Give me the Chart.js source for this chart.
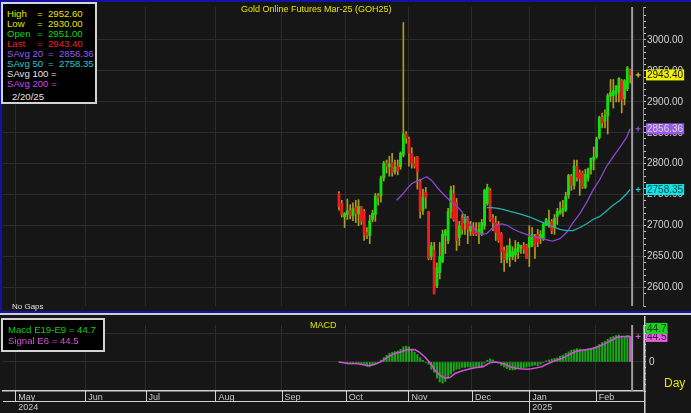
<!DOCTYPE html>
<html>
<head>
<meta charset="utf-8">
<script src="https://cdn.jsdelivr.net/npm/chart.js@4.4.1/dist/chart.umd.min.js"></script>
<style>
  html, body { margin: 0; padding: 0; background: #161616; }
  #wrap { position: relative; width: 691px; height: 413px; overflow: hidden; background: #161616;
          font-family: "Liberation Sans", Arial, sans-serif; }
  canvas { position: absolute; left: 0; }
  #priceCanvas { top: 0; }
  #macdCanvas { top: 316px; }
  .line { position: absolute; }
  .box { position: absolute; background: #000; border: 2px solid #d4d4d4; font-size: 9.6px; }
  .box div { position: absolute; height: 11px; line-height: 11px; white-space: pre; }
  .box span { position: absolute; top: 0; }
  .title { position: absolute; color: #e6e600; font-size: 9px; white-space: pre; }
</style>
</head>
<body>
<div id="wrap">
  <canvas id="priceCanvas" width="691" height="313"></canvas>
  <canvas id="macdCanvas" width="691" height="97"></canvas>
  <div class="line" style="left:0;top:0;width:691px;height:2px;background:#1212a6"></div>
  <div class="line" style="left:0;top:0;width:2px;height:313px;background:#1212a6"></div>
  <div class="line" style="left:0;top:311px;width:691px;height:2px;background:#1212a6"></div>
  <div class="line" style="left:0;top:313px;width:691px;height:2px;background:#cfcfcf"></div>
  <div class="title" style="left:241px;top:4px">Gold Online Futures Mar-25 (GOH25)</div>
  <div class="title" style="left:310px;top:320px">MACD</div>
  <div class="title" style="left:664px;top:376px;font-size:12px">Day</div>
  <div class="title" style="left:12px;top:302px;color:#e0e0e0;font-size:8px">No Gaps</div>
  <div class="box" id="infoBox" style="left:1px;top:2px;width:92px;height:98px"></div>
  <div class="box" id="macdBox" style="left:1px;top:318px;width:100px;height:30px"></div>
</div>
<script>
// month grid positions on the trading-day axis
const monthNames = ['May', 'Jun', 'Jul', 'Aug', 'Sep', 'Oct', 'Nov', 'Dec', 'Jan', 'Feb'];
const monthDays = [4.4, 29.4, 50.9, 75.9, 99.5, 122.4, 144.8, 167.5, 188, 211.7];
const yearNames = ['2024', '2025'];
const yearDays = [4.4, 188];

// daily candles, first one sits on day 120
const firstDay = 120;
const openP = [2752, 2736, 2714, 2718, 2724, 2716, 2729, 2719, 2730, 2723, 2689, 2684, 2710, 2718, 2748, 2748, 2777, 2801, 2795, 2802,
  2787, 2796, 2795, 2814, 2848, 2840, 2817, 2800, 2811, 2772, 2725, 2754, 2723, 2650, 2660, 2603, 2624, 2642, 2684, 2676,
  2723, 2752, 2738, 2681, 2712, 2705, 2712, 2691, 2698, 2690, 2689, 2686, 2700, 2736, 2757, 2712, 2705, 2702, 2687, 2660,
  2645, 2650, 2650, 2653, 2658, 2664, 2668, 2668, 2665, 2668, 2681, 2686, 2679, 2679, 2700, 2700, 2707, 2697, 2715, 2720,
  2723, 2725, 2749, 2780, 2765, 2796, 2785, 2785, 2762, 2777, 2791, 2806, 2811, 2842, 2875, 2869, 2877, 2909, 2910, 2913,
  2916, 2934, 2905, 2921, 2951];
const highP = [2755, 2741, 2721, 2743, 2734, 2737, 2741, 2742, 2731, 2726, 2697, 2717, 2725, 2752, 2752, 2780, 2804, 2806, 2812, 2817,
  2806, 2806, 2819, 3028, 2852, 2843, 2826, 2811, 2812, 2775, 2759, 2762, 2723, 2673, 2673, 2640, 2673, 2693, 2694, 2728,
  2764, 2765, 2744, 2707, 2718, 2718, 2715, 2707, 2705, 2705, 2705, 2710, 2759, 2767, 2760, 2718, 2715, 2707, 2689, 2666,
  2668, 2679, 2666, 2676, 2673, 2668, 2673, 2670, 2700, 2697, 2686, 2694, 2692, 2705, 2712, 2725, 2710, 2718, 2728, 2738,
  2741, 2754, 2783, 2783, 2806, 2806, 2790, 2788, 2791, 2793, 2809, 2827, 2843, 2877, 2882, 2887, 2913, 2936, 2936, 2926,
  2939, 2936, 2936, 2957, 2952.6];
const lowP = [2725, 2714, 2697, 2710, 2711, 2708, 2705, 2700, 2702, 2676, 2679, 2671, 2706, 2707, 2733, 2738, 2772, 2785, 2780, 2780,
  2783, 2782, 2791, 2811, 2833, 2796, 2793, 2793, 2759, 2712, 2718, 2728, 2645, 2645, 2590, 2600, 2614, 2640, 2655, 2671,
  2712, 2707, 2660, 2668, 2686, 2686, 2671, 2684, 2684, 2684, 2671, 2684, 2694, 2733, 2707, 2692, 2676, 2673, 2640, 2626,
  2640, 2634, 2645, 2642, 2647, 2655, 2655, 2647, 2634, 2666, 2647, 2666, 2671, 2676, 2700, 2697, 2687, 2686, 2702, 2718,
  2715, 2723, 2744, 2757, 2759, 2772, 2749, 2760, 2760, 2772, 2783, 2790, 2809, 2840, 2858, 2858, 2848, 2900, 2890, 2900,
  2900, 2882, 2895, 2918, 2930];
const closeP = [2731, 2718, 2720, 2724, 2717, 2728, 2720, 2731, 2708, 2686, 2685, 2708, 2720, 2748, 2745, 2777, 2801, 2796, 2800, 2786,
  2795, 2788, 2817, 2848, 2842, 2817, 2801, 2797, 2787, 2723, 2746, 2746, 2647, 2667, 2590, 2632, 2650, 2686, 2692, 2723,
  2757, 2710, 2676, 2700, 2694, 2715, 2694, 2699, 2687, 2686, 2694, 2705, 2757, 2762, 2710, 2705, 2689, 2676, 2658, 2645,
  2655, 2668, 2658, 2663, 2670, 2668, 2662, 2647, 2681, 2686, 2666, 2673, 2686, 2702, 2710, 2707, 2692, 2712, 2723, 2725,
  2728, 2747, 2781, 2765, 2796, 2778, 2776, 2762, 2783, 2792, 2809, 2811, 2840, 2875, 2866, 2877, 2910, 2915, 2918, 2926,
  2938, 2903, 2934, 2955, 2943.4];

// moving averages
const sma20Days = [140.6, 142.4, 144.2, 146, 147.8, 149.5, 151.3, 153.1, 155.4, 157.9, 160.3, 162, 163.8, 165.6, 167.4, 169.2,
  171, 172.8, 174.5, 176.3, 178.1, 179.9, 182.1, 183.9, 185.7, 188.2, 191.8, 195.4, 196.4, 198.9, 201.3, 203.6, 206.1, 208.5,
  210.7, 213.2, 215.6, 217.9, 220.4, 222.8, 224];
const sma20Vals = [2741, 2749, 2759, 2768, 2772, 2775, 2779, 2773, 2760, 2748, 2738, 2732, 2723, 2710, 2699, 2690,
  2686, 2687, 2695, 2701, 2703, 2701, 2695, 2691, 2688, 2684, 2680, 2676, 2675, 2679, 2689, 2705, 2720, 2738,
  2757, 2775, 2796, 2811, 2827, 2843, 2856.36];
const sma50Days = [172.8, 174.6, 176.8, 178.9, 181.1, 184.6, 188.2, 191.8, 195.4, 198.9, 201.3, 203.6, 206.1, 208.5, 210.7,
  213.2, 215.6, 217.9, 220.4, 222.8, 224];
const sma50Vals = [2729, 2729, 2728, 2726, 2723, 2719, 2714, 2707, 2700, 2694, 2692, 2692, 2697, 2703, 2710,
  2715, 2724, 2733, 2741, 2752, 2758.35];

// MACD histogram (one per candle) and signal line
const macdHist = [0, -0.5, -1, -1.6, -2, -2, -2, -2, -3, -5, -7.5, -8.5, -6.5, -4, -1,
  3, 7.5, 11.5, 15, 17, 18, 19, 22, 26.5, 27.5, 26.5, 22, 17, 13, 7.5, 3,
  -1, -4, -13, -18, -28, -35, -37, -34, -28, -21, -16, -13, -12, -9.5, -9.5, -8.5, -9.5, -10.5, -9.5, -8.5, -8.5,
  -2, 3, 5.5, 3.5, 1, -2, -6.5, -9, -11.5, -13.5, -14, -13.5, -11.5, -11.5, -10, -9, -8, -6.5, -5.5, -6.5, -4, -1.5,
  2, 3.5, 5, 6, 7, 10, 12, 15, 17.5, 20.5, 21.5, 23, 22.5, 21.5, 21.5, 22.5, 24, 25.5, 27.5, 30.5, 34, 36, 39.5, 43,
  44.5, 46, 47, 43, 44.5, 46, 44.7];
const signalDays = [120, 123.2, 126.8, 130.4, 132.9, 135.3, 137.5, 140, 142.4, 144.2, 147.1, 148.9, 150.7, 152.5, 154.3,
  156.1, 157.9, 159.6, 161.4, 163.8, 166.2, 168.6, 171.5, 173.9, 175.7, 177.5, 179.3, 181.1, 182.9, 184.6, 187, 188.8,
  190.6, 192.4, 194.2, 196, 197.8, 199.6, 201.3, 203.1, 204.9, 206.7, 208.5, 210.3, 212.1, 213.8, 215.6, 217.4, 219.2,
  221, 222.8, 224];
const signalVals = [0, -2.6, -3.1, -6.6, -4, 1, 8.7, 14.9, 17.9, 21.5, 21.5, 16.4, 8.7, -1.5, -14.3,
  -23.4, -28.1, -27.1, -20.2, -15.9, -12.8, -10.2, -8.2, -1.5, 0, -1.5, -4, -8.2, -10.6, -11.7, -12.8, -11.7,
  -10.2, -8.2, -4, 0, 3.6, 6.2, 10.2, 14.8, 18.9, 20.4, 21.5, 23, 25.5, 29.2, 33.2, 37.8, 42.9,
  44.3, 44.3, 44.5];

const infoLabels = ['High', 'Low', 'Open', 'Last', 'SAvg 20', 'SAvg 50', 'SAvg 100', 'SAvg 200'];
const infoValues = ['2952.60', '2930.00', '2951.00', '2943.40', '2856.36', '2758.35', '', ''];
const infoColors = ['#e6e600', '#e6e600', '#10d810', '#e82020', '#9a5cf0', '#20cccc', '#e4e4e4', '#c84ae8'];
const infoDate = '2/20/25';
const macdLabels = ['Macd E19-E9 = 44.7', 'Signal E6 = 44.5'];
const macdLabelColors = ['#10d810', '#d850d8'];

const FONT = '"Liberation Sans", Arial, sans-serif';
Chart.defaults.font.family = FONT;

// legend boxes
const infoBox = document.getElementById('infoBox');
infoLabels.forEach(function (lab, i) {
  const wide = lab.indexOf('SAvg') === 0;
  const row = document.createElement('div');
  row.style.top = (4 + 10 * i) + 'px';
  row.style.left = '0px';
  row.style.color = infoColors[i];
  row.innerHTML = '<span style="left:4px">' + lab + '</span>' +
    '<span style="left:' + (wide ? (lab.length > 7 ? 48 : 45) : 34) + 'px">=</span>' +
    '<span style="left:' + (wide ? 56 : 45) + 'px">' + infoValues[i] + '</span>';
  infoBox.appendChild(row);
});
const dateRow = document.createElement('div');
dateRow.style.top = '87px'; dateRow.style.left = '9px'; dateRow.style.color = '#e4e4e4';
dateRow.textContent = infoDate;
infoBox.appendChild(dateRow);
const macdBox = document.getElementById('macdBox');
macdLabels.forEach(function (t, i) {
  const row = document.createElement('div');
  row.style.top = (4 + 11 * i) + 'px'; row.style.left = '5px'; row.style.color = macdLabelColors[i];
  row.textContent = t;
  macdBox.appendChild(row);
});

const days = openP.map(function (_, i) { return firstDay + i; });
const lastDay = days[days.length - 1];
const xMin = 0, xMax = 228.6;

function monthTicks(scale) { scale.ticks = monthDays.map(function (v) { return { value: v }; }); }
function every(n) { return function (ctx) { return ctx.tick && Math.abs(ctx.tick.value % n) < 0.01 ? '#2c2c2c' : 'rgba(0,0,0,0)'; }; }

function drawTag(ctx, x, y, bg, fg, text, markX, markY) {
  ctx.strokeStyle = bg; ctx.lineWidth = 1;
  ctx.beginPath();
  ctx.moveTo(markX - 2.5, markY); ctx.lineTo(markX + 2.5, markY);
  ctx.moveTo(markX, markY - 2.5); ctx.lineTo(markX, markY + 2.5);
  ctx.stroke();
  ctx.font = '10px ' + FONT;
  const w = ctx.measureText(text).width + 2;
  ctx.fillStyle = bg; ctx.fillRect(x, y - 5.5, w, 11);
  ctx.fillStyle = fg; ctx.textBaseline = 'middle'; ctx.textAlign = 'left';
  ctx.fillText(text, x + 1, y + 0.5);
}

const priceTags = {
  id: 'priceTags',
  afterDraw: function (chart) {
    const ctx = chart.ctx, area = chart.chartArea, x = chart.scales.x, y = chart.scales.y;
    const cx = x.getPixelForValue(lastDay) + 2;
    ctx.save();
    ctx.fillStyle = '#9c9c9c';
    ctx.fillRect(cx - 1, area.top, 2, area.bottom - area.top);
    const tags = [
      [closeP[closeP.length - 1], '#f0f000', '#101010'],
      [sma20Vals[sma20Vals.length - 1], '#9a5ae8', '#d8d8d8'],
      [sma50Vals[sma50Vals.length - 1], '#10e4e4', '#104848']
    ];
    tags.forEach(function (t) {
      const py = y.getPixelForValue(t[0]);
      drawTag(ctx, area.right + 3, py, t[1], t[2], t[0].toFixed(2), cx + 6, py);
    });
    ctx.restore();
  }
};

const macdDecor = {
  id: 'macdDecor',
  afterDraw: function (chart) {
    const ctx = chart.ctx, area = chart.chartArea, x = chart.scales.x, y = chart.scales.y;
    const H = chart.height;
    const mid = area.bottom + 10;
    ctx.save();
    ctx.fillStyle = '#d0d0d0';
    ctx.fillRect(area.left, mid, area.right - area.left + 2, 1);
    ctx.fillRect(area.right + 1, 0, 1.5, H);
    monthDays.forEach(function (d, i) {
      const px = Math.round(x.getPixelForValue(d));
      ctx.fillRect(px, area.bottom, 1, (monthNames[i] === 'Jan' ? H : mid) - area.bottom);
    });
    ctx.font = '9px ' + FONT;
    ctx.fillStyle = '#c8c8c8'; ctx.textBaseline = 'top'; ctx.textAlign = 'left';
    yearNames.forEach(function (t, i) {
      ctx.fillText(t, x.getPixelForValue(yearDays[i]) + 3, mid + 2);
    });
    const cx = x.getPixelForValue(lastDay) + 2;
    ctx.fillStyle = '#9c9c9c';
    ctx.fillRect(cx - 1, area.top, 2, area.bottom - area.top);
    const lastM = macdHist[macdHist.length - 1], lastS = signalVals[signalVals.length - 1];
    const sy = y.getPixelForValue(lastS);
    drawTag(ctx, area.right + 3, sy, '#e060e0', '#401040', lastS.toFixed(1), cx + 6, sy);
    drawTag(ctx, area.right + 3, sy - 8, '#20d020', '#0a400a', lastM.toFixed(1), -20, -20);
    ctx.restore();
  }
};

new Chart(document.getElementById('priceCanvas'), {
  type: 'bar',
  data: {
    datasets: [
      { type: 'line', data: sma50Days.map(function (d, i) { return { x: d, y: sma50Vals[i] }; }),
        borderColor: '#22b2b2', borderWidth: 1.3, pointRadius: 0, order: 1 },
      { type: 'line', data: sma20Days.map(function (d, i) { return { x: d, y: sma20Vals[i] }; }),
        borderColor: '#8a46d4', borderWidth: 1.3, pointRadius: 0, order: 2 },
      { data: days.map(function (d, i) { return { x: d, y: [openP[i], closeP[i]] }; }),
        backgroundColor: openP.map(function (o, i) { return closeP[i] >= o ? '#10e010' : '#f01c1c'; }),
        barThickness: 2.2, minBarLength: 1, grouped: false, order: 3 },
      { data: days.map(function (d, i) { return { x: d, y: [lowP[i], highP[i]] }; }),
        backgroundColor: '#ae9e18', barThickness: 1, grouped: false, order: 4 }
    ]
  },
  options: {
    responsive: false, animation: false,
    layout: { padding: { left: 3, top: 2, bottom: 2, right: 0 } },
    plugins: { legend: { display: false }, tooltip: { enabled: false } },
    scales: {
      x: { type: 'linear', min: xMin, max: xMax, offset: false,
        afterBuildTicks: monthTicks, afterFit: function (s) { s.height = 0; },
        ticks: { display: false },
        grid: { color: '#2c2c2c', drawTicks: false, offset: false }, border: { display: false } },
      y: { position: 'right', min: 2570.3, max: 3053.1, beginAtZero: false,
        afterFit: function (s) { s.width = 48; },
        ticks: { stepSize: 10, autoSkip: false, padding: 1, color: '#d4d4d4', font: { size: 10 },
          callback: function (v) { return Math.abs(v % 50) < 0.01 ? v.toFixed(2) : ''; } },
        grid: { color: every(50), tickLength: 3, tickColor: '#c8c8c8' },
        border: { display: true, color: '#8c8c8c' } }
    }
  },
  plugins: [priceTags]
});

new Chart(document.getElementById('macdCanvas'), {
  type: 'bar',
  data: {
    datasets: [
      { type: 'line', data: signalDays.map(function (d, i) { return { x: d, y: signalVals[i] }; }),
        borderColor: '#d24ed2', borderWidth: 1.6, pointRadius: 0, order: 1 },
      { data: days.map(function (d, i) { return { x: d, y: macdHist[i] }; }),
        backgroundColor: macdHist.map(function (_, i) { return i === macdHist.length - 1 ? '#d24ed2' : '#16a816'; }),
        barThickness: 1.4, grouped: false, order: 2 }
    ]
  },
  options: {
    responsive: false, animation: false,
    layout: { padding: { left: 3, top: 0, bottom: 0, right: 0 } },
    plugins: { legend: { display: false }, tooltip: { enabled: false } },
    scales: {
      x: { type: 'linear', min: xMin, max: xMax, offset: false,
        afterBuildTicks: monthTicks, afterFit: function (s) { s.height = 22; },
        ticks: { color: '#c8c8c8', font: { size: 9 }, align: 'start', labelOffset: 3, padding: 1,
          maxRotation: 0, autoSkip: false,
          callback: function (v, i) { return monthNames[i]; } },
        grid: { color: '#2c2c2c', drawTicks: false, offset: false },
        border: { display: true, color: '#d0d0d0', width: 1.5 } },
      y: { position: 'right', min: -50.6, max: 64.4, beginAtZero: false,
        afterFit: function (s) { s.width = 48; },
        ticks: { stepSize: 10, autoSkip: false, padding: 3, color: '#d4d4d4', font: { size: 10 },
          callback: function (v) { return v === 0 ? '0' : ''; } },
        grid: { color: every(50), tickLength: 3, tickColor: '#c8c8c8' },
        border: { display: true, color: '#8c8c8c' } }
    }
  },
  plugins: [macdDecor]
});
</script>
</body>
</html>
